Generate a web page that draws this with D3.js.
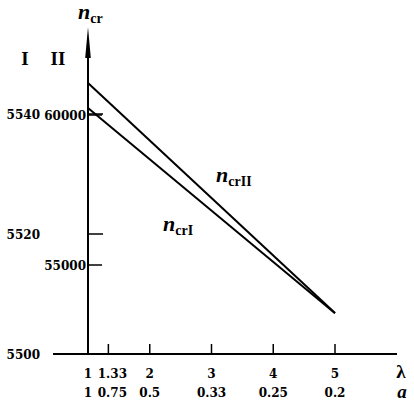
<!DOCTYPE html>
<html><head><meta charset="utf-8">
<script src="https://cdn.jsdelivr.net/npm/d3@7"></script>
<style>body{margin:0;background:#fff}svg{display:block}</style>
</head><body>
<svg id="c" width="414" height="406"></svg>
<script>
// Data
const lambdaTicks = [1, 1.33, 2, 3, 4, 5];
const aTickLabels = ["1", "0.75", "0.5", "0.33", "0.25", "0.2"];
const scaleITicks = [5500, 5520, 5540];
const scaleIITicks = [55000, 60000];
const lineLambda = [1, 5];
const ncrI = [5541, 5506.8];      // read on scale I
const ncrII = [61067, 53400];     // read on scale II

const svg = d3.select("#c");
const axisX0 = 88, axisY0 = 354;
const x = d3.scaleLinear().domain([1, 5]).range([axisX0, 335]);
const yI = d3.scaleLinear().domain([5500, 5540]).range([axisY0, 114]);
const yII = d3.scaleLinear().domain([55000, 60000]).range([265, 115]);

const tickFont = "'DejaVu Serif', serif";
const fs = 12;
// axes lines
svg.append("line").attr("x1", 53).attr("x2", 397).attr("y1", axisY0).attr("y2", axisY0)
  .attr("stroke", "#000").attr("stroke-width", 2);
svg.append("line").attr("x1", axisX0).attr("x2", axisX0).attr("y1", axisY0).attr("y2", 40)
  .attr("stroke", "#000").attr("stroke-width", 2);
// arrow head
svg.append("path").attr("d", `M${axisX0},27 L${axisX0+2.8},58 L${axisX0-2.8},58 Z`).attr("fill", "#000");

// x ticks
const xt = svg.append("g");
lambdaTicks.forEach((v, i) => {
  if (v !== 1) xt.append("line").attr("x1", x(v)).attr("x2", x(v)).attr("y1", axisY0).attr("y2", axisY0 - 10)
    .attr("stroke", "#000").attr("stroke-width", 1.5);
  const xx = v === 1.33 ? x(v) + 4 : x(v);
  xt.append("text").attr("x", xx).attr("y", 378).attr("text-anchor", "middle")
    .attr("font-family", tickFont).attr("font-weight", "bold").attr("font-size", fs).text(String(v));
  xt.append("text").attr("x", xx).attr("y", 397).attr("text-anchor", "middle")
    .attr("font-family", tickFont).attr("font-weight", "bold").attr("font-size", fs).text(aTickLabels[i]);
});
svg.append("text").attr("x", 401).attr("y", 378).attr("text-anchor", "middle")
  .attr("font-family", "'Liberation Serif', serif").attr("font-weight", "bold").attr("font-size", 19).text("λ");
svg.append("text").attr("x", 402).attr("y", 398).attr("text-anchor", "middle")
  .attr("font-family", "'Liberation Serif', serif").attr("font-weight", "bold").attr("font-style", "italic").attr("font-size", 19).text("a");

// y ticks scale I
scaleITicks.forEach(v => {
  if (v !== 5500) svg.append("line").attr("x1", axisX0).attr("x2", axisX0 + 15).attr("y1", yI(v)).attr("y2", yI(v))
    .attr("stroke", "#000").attr("stroke-width", 1.5);
  svg.append("text").attr("x", 40).attr("y", yI(v) + 4.5).attr("text-anchor", "end")
    .attr("font-family", tickFont).attr("font-weight", "bold").attr("font-size", fs).text(v);
});
scaleIITicks.forEach(v => {
  svg.append("line").attr("x1", axisX0).attr("x2", axisX0 + 14).attr("y1", yII(v)).attr("y2", yII(v))
    .attr("stroke", "#000").attr("stroke-width", 1.5);
  svg.append("text").attr("x", 86).attr("y", yII(v) + 4.5).attr("text-anchor", "end")
    .attr("font-family", tickFont).attr("font-weight", "bold").attr("font-size", fs).text(v);
});
// scale names
svg.append("text").attr("x", 25).attr("y", 65).attr("text-anchor", "middle")
  .attr("font-family", "'Liberation Serif', serif").attr("font-weight", "bold").attr("font-size", 19).text("I");
svg.append("text").attr("x", 58).attr("y", 65).attr("text-anchor", "middle")
  .attr("font-family", "'Liberation Serif', serif").attr("font-weight", "bold").attr("font-size", 19).text("II");

// lines
const lineI = d3.line().x((d, i) => x(lineLambda[i])).y(d => yI(d));
const lineII = d3.line().x((d, i) => x(lineLambda[i])).y(d => yII(d));
svg.append("path").attr("d", lineI(ncrI)).attr("fill", "none").attr("stroke", "#000").attr("stroke-width", 2);
svg.append("path").attr("d", lineII(ncrII)).attr("fill", "none").attr("stroke", "#000").attr("stroke-width", 2);

// labels
function nLabel(px, py, sub) {
  const t = svg.append("text").attr("x", px).attr("y", py).attr("font-family", "'Liberation Serif', serif").attr("font-weight", "bold");
  t.append("tspan").attr("font-style", "italic").attr("font-size", 22).text("n");
  t.append("tspan").attr("font-size", 14).attr("dy", 4).text(sub);
}
nLabel(78, 19, "cr");
nLabel(216, 182, "crII");
nLabel(163, 231, "crI");
</script>
</body></html>
